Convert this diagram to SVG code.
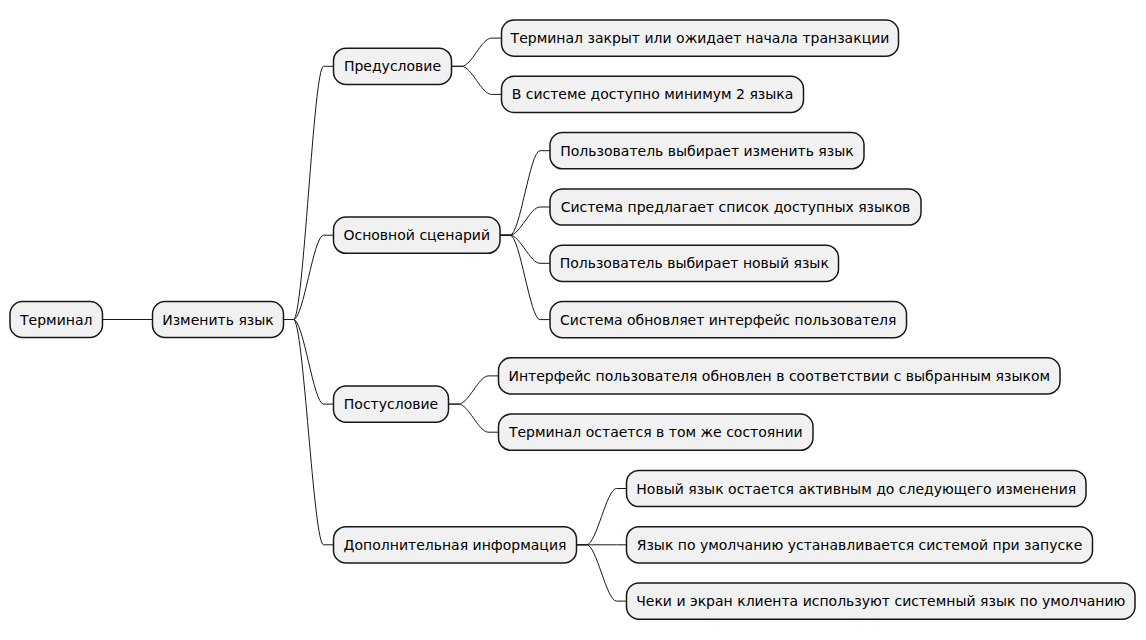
<svg xmlns="http://www.w3.org/2000/svg" width="1146" height="640" viewBox="0 0 1146 640">
<style>
.n rect{fill:#F1F1F1;stroke:#181818;stroke-width:1.5}
.n text{font-family:"DejaVu Sans",sans-serif;font-size:14px;fill:#000;text-anchor:middle}
.c path{fill:none;stroke:#181818;stroke-width:1}
</style>
<rect width="1146" height="640" fill="#FFFFFF"/>
<g class="c" id="connectors">
<path d="M102.5,319.5 L152.5,319.5"/>
<path d="M283.5,319.5 L293.5,319.5 C303.5,319.5 313.5,66.3 323.5,66.3 L333.5,66.3"/>
<path d="M283.5,319.5 L293.5,319.5 C303.5,319.5 313.5,235.2 323.5,235.2 L333.5,235.2"/>
<path d="M283.5,319.5 L293.5,319.5 C303.5,319.5 313.5,404.1 323.5,404.1 L333.5,404.1"/>
<path d="M283.5,319.5 L293.5,319.5 C303.5,319.5 313.5,544.8 323.5,544.8 L333.5,544.8"/>
<path d="M451.5,66.3 L461.5,66.3 C471.5,66.3 481.5,38.1 491.5,38.1 L501.5,38.1"/>
<path d="M451.5,66.3 L461.5,66.3 C471.5,66.3 481.5,94.4 491.5,94.4 L501.5,94.4"/>
<path d="M500,235.2 L510,235.2 C520,235.2 530,150.7 540,150.7 L550,150.7"/>
<path d="M500,235.2 L510,235.2 C520,235.2 530,207 540,207 L550,207"/>
<path d="M500,235.2 L510,235.2 C520,235.2 530,263.3 540,263.3 L550,263.3"/>
<path d="M500,235.2 L510,235.2 C520,235.2 530,319.6 540,319.6 L550,319.6"/>
<path d="M448.5,404.1 L458.5,404.1 C468.5,404.1 478.5,375.9 488.5,375.9 L498.5,375.9"/>
<path d="M448.5,404.1 L458.5,404.1 C468.5,404.1 478.5,432.2 488.5,432.2 L498.5,432.2"/>
<path d="M576.5,544.8 L586.5,544.8 C596.5,544.8 606.5,488.5 616.5,488.5 L626.5,488.5"/>
<path d="M576.5,544.8 L586.5,544.8 C596.5,544.8 606.5,544.8 616.5,544.8 L626.5,544.8"/>
<path d="M576.5,544.8 L586.5,544.8 C596.5,544.8 606.5,601.1 616.5,601.1 L626.5,601.1"/>
</g>
<g class="n" id="n-terminal"><rect x="10" y="301.5" width="92.5" height="36" rx="12.5"/><text x="56.25" y="324.5">Терминал</text></g>
<g class="n" id="n-change"><rect x="152.5" y="301.5" width="131" height="36" rx="12.5"/><text x="218" y="324.5">Изменить язык</text></g>
<g class="n" id="n-pre"><rect x="333.5" y="48.2" width="118" height="36.2" rx="12.5"/><text x="392.5" y="71.3">Предусловие</text></g>
<g class="n" id="n-main"><rect x="333.5" y="217.1" width="166.5" height="36.2" rx="12.5"/><text x="416.75" y="240.2">Основной сценарий</text></g>
<g class="n" id="n-post"><rect x="333.5" y="386" width="115" height="36.2" rx="12.5"/><text x="391" y="409.1">Постусловие</text></g>
<g class="n" id="n-extra"><rect x="333.5" y="526.7" width="243" height="36.2" rx="12.5"/><text x="455" y="549.8">Дополнительная информация</text></g>
<g class="n" id="n-pre1"><rect x="501.5" y="20" width="397" height="36.2" rx="12.5"/><text x="700" y="43.1">Терминал закрыт или ожидает начала транзакции</text></g>
<g class="n" id="n-pre2"><rect x="501.5" y="76.3" width="302" height="36.2" rx="12.5"/><text x="652.5" y="99.4">В системе доступно минимум 2 языка</text></g>
<g class="n" id="n-main1"><rect x="550" y="132.6" width="314" height="36.2" rx="12.5"/><text x="707" y="155.7">Пользователь выбирает изменить язык</text></g>
<g class="n" id="n-main2"><rect x="550" y="188.9" width="371" height="36.2" rx="12.5"/><text x="735.5" y="212">Система предлагает список доступных языков</text></g>
<g class="n" id="n-main3"><rect x="550" y="245.2" width="288.5" height="36.2" rx="12.5"/><text x="694.25" y="268.3">Пользователь выбирает новый язык</text></g>
<g class="n" id="n-main4"><rect x="550" y="301.5" width="356.5" height="36.2" rx="12.5"/><text x="728.25" y="324.6">Система обновляет интерфейс пользователя</text></g>
<g class="n" id="n-post1"><rect x="498.5" y="357.8" width="561.5" height="36.2" rx="12.5"/><text x="779.25" y="380.9">Интерфейс пользователя обновлен в соответствии с выбранным языком</text></g>
<g class="n" id="n-post2"><rect x="498.5" y="414.1" width="314.5" height="36.2" rx="12.5"/><text x="655.75" y="437.2">Терминал остается в том же состоянии</text></g>
<g class="n" id="n-extra1"><rect x="626.5" y="470.4" width="459.5" height="36.2" rx="12.5"/><text x="856.25" y="493.5">Новый язык остается активным до следующего изменения</text></g>
<g class="n" id="n-extra2"><rect x="626.5" y="526.7" width="466" height="36.2" rx="12.5"/><text x="859.5" y="549.8">Язык по умолчанию устанавливается системой при запуске</text></g>
<g class="n" id="n-extra3"><rect x="626.5" y="583" width="508.5" height="36.2" rx="12.5"/><text x="880.75" y="606.1">Чеки и экран клиента используют системный язык по умолчанию</text></g>
</svg>
